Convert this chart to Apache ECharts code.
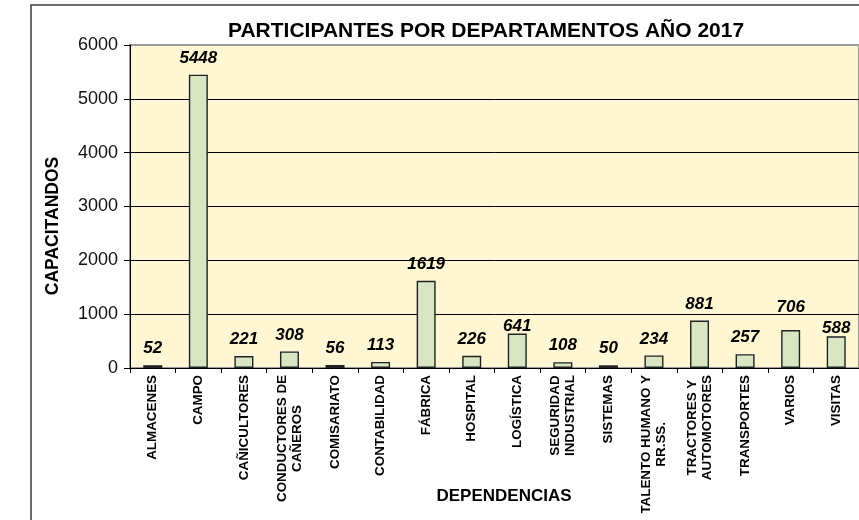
<!DOCTYPE html>
<html>
<head>
<meta charset="utf-8">
<script src="https://cdn.jsdelivr.net/npm/echarts@6/dist/echarts.min.js"></script>
<style>
html,body{margin:0;padding:0;background:#fff;overflow:hidden;}
#chart{width:859px;height:520px;}
</style>
</head>
<body>
<div id="chart"></div>
<script>
const titleText = 'PARTICIPANTES POR DEPARTAMENTOS AÑO 2017';
const yAxisTitle = 'CAPACITANDOS';
const xAxisTitle = 'DEPENDENCIAS';
const categories = ['ALMACENES','CAMPO','CAÑICULTORES','CONDUCTORES DE\nCAÑEROS','COMISARIATO','CONTABILIDAD','FÁBRICA','HOSPITAL','LOGÍSTICA','SEGURIDAD\nINDUSTRIAL','SISTEMAS','TALENTO HUMANO Y\nRR.SS.','TRACTORES Y\nAUTOMOTORES','TRANSPORTES','VARIOS','VISITAS'];
const participants = [52,5448,221,308,56,113,1619,226,641,108,50,234,881,257,706,588];
const yMin = 0, yMax = 6000, yStep = 1000;

const FONT = '"Liberation Sans", Arial, sans-serif';
// small label nudges (Excel moved some labels off the gridline)
const labelNudge = {8: 9, 14: -6, 15: 8};

const chart = echarts.init(document.getElementById('chart'));
chart.setOption({
  backgroundColor: '#ffffff',
  animation: false,
  title: {
    text: titleText,
    left: 223, top: 16,
    textStyle: {fontFamily: FONT, fontWeight: 'bold', fontSize: 21, color: '#000'}
  },
  graphic: [
    {type: 'rect', z: -10, shape: {x: 31, y: 5, width: 900, height: 600},
     style: {fill: 'none', stroke: '#3a3a3a', lineWidth: 1.5}},
    {type: 'text', x: 53, y: 226, rotation: Math.PI / 2,
     style: {text: yAxisTitle, font: 'bold 17.5px ' + FONT, fill: '#000', align: 'center', verticalAlign: 'middle'}},
    {type: 'text', x: 504, y: 496.5,
     style: {text: xAxisTitle, font: 'bold 17px ' + FONT, fill: '#000', align: 'center', verticalAlign: 'middle'}}
  ],
  grid: {
    left: 130, top: 45, right: -10.7, bottom: 152,
    show: true, backgroundColor: '#FFF7D4', borderColor: '#9a9a9a', borderWidth: 2
  },
  xAxis: {
    type: 'category',
    data: categories,
    boundaryGap: true,
    axisLine: {show: true, lineStyle: {color: '#000', width: 1}},
    axisTick: {show: true, length: 5, alignWithLabel: false, lineStyle: {color: '#000'}},
    axisLabel: {
      interval: 0, rotate: 90, margin: 7,
      fontFamily: FONT, fontWeight: 'bold', fontSize: 13.4, color: '#000',
      formatter: v => v.split('\n').map(l => '{c|' + l + '}').join('\n'),
      rich: {c: {align: 'center', fontFamily: FONT, fontWeight: 'bold', fontSize: 13.4, lineHeight: 15, color: '#000'}}
    },
    splitLine: {show: false}
  },
  yAxis: {
    type: 'value',
    min: yMin, max: yMax, interval: yStep,
    axisLine: {show: true, lineStyle: {color: '#000', width: 1}},
    axisTick: {show: true, length: 6, inside: false, lineStyle: {color: '#000'}},
    axisLabel: {margin: 12, fontFamily: FONT, fontSize: 18, color: '#111', formatter: v => String(v)},
    splitLine: {show: true, showMaxLine: false, lineStyle: {color: '#000', width: 1}}
  },
  series: [{
    type: 'bar',
    barWidth: 19,
    data: participants.map((v, i) => ({
      value: v,
      label: labelNudge[i] ? {offset: [0, labelNudge[i]]} : undefined
    })),
    itemStyle: {color: '#D8E6C4', borderColor: '#222', borderWidth: 1.4},
    label: {
      show: true, position: 'top', distance: 8,
      fontFamily: FONT, fontWeight: 'bold', fontStyle: 'italic', fontSize: 17, color: '#000'
    }
  }]
});
</script>
</body>
</html>
